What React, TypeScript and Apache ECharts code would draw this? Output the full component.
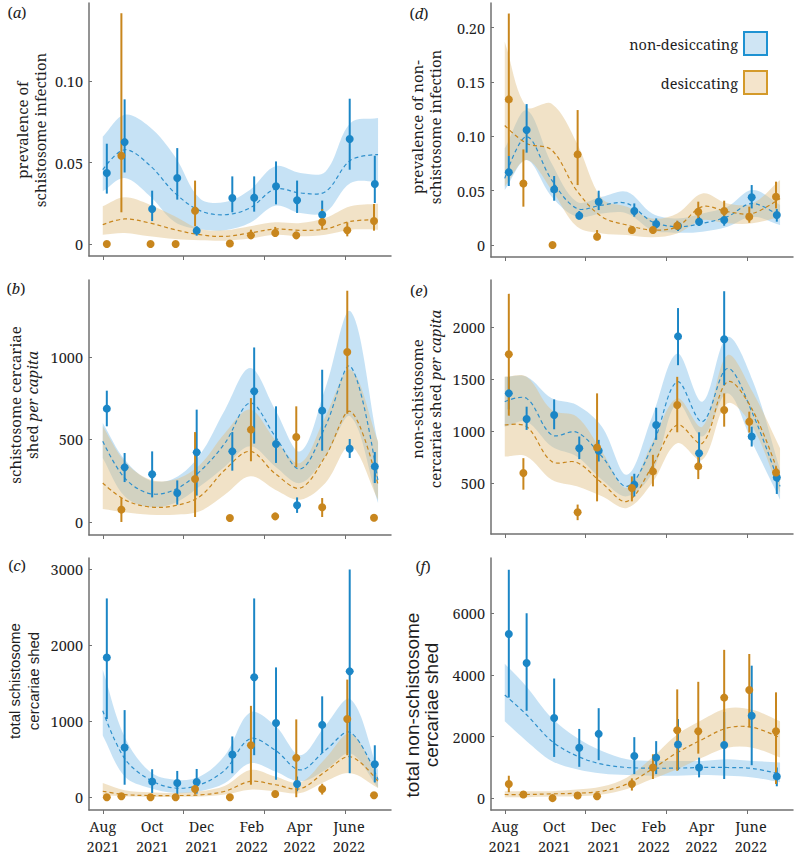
import { useEffect, useRef } from 'react';
import * as echarts from 'echarts';

// ---- sampling dates (days since 1 Aug 2021) ----
const blueDays = [5, 27, 61, 92, 116, 160, 187, 214, 240, 271, 305, 336];
const orangeDays = [5, 23, 59, 90, 114, 157, 183, 213, 239, 271, 302, 335];
const curveDays = [0, 27, 58, 89, 120, 151, 182, 213, 244, 275, 306, 340];
const xTickDays = [0, 100, 200, 300];
const xLabelDays = [0, 61, 122, 184, 243, 304];
const xLabels = ['Aug\n2021', 'Oct\n2021', 'Dec\n2021', 'Feb\n2022', 'Apr\n2022', 'June\n2022'];

// ---- y tick labels ----
const aTicks = [0, 0.05, 0.1];
const bTicks = [0, 500, 1000];
const cTicks = [0, 1000, 2000, 3000];
const dTicks = [0, 0.05, 0.1, 0.15, 0.2];
const eTicks = [500, 1000, 1500, 2000];
const fTicks = [0, 2000, 4000, 6000];

// ---- observations: [value, lower, upper] ----
const aBlue = [[0.0437, 0.031, 0.0617], [0.0627, 0.044, 0.089], [0.0215, 0.0141, 0.0328], [0.0406, 0.0273, 0.059], [0.0082, 0.0051, 0.0109], [0.0283, 0.0195, 0.0416], [0.0285, 0.0199, 0.0416], [0.0355, 0.0244, 0.0508], [0.0269, 0.0191, 0.039], [0.018, 0.0126, 0.0267], [0.0646, 0.0457, 0.0894], [0.0369, 0.0252, 0.0543]];
const aOrange = [[0, 0, 0], [0.0543, 0.0195, 0.142], [0, 0, 0], [0, 0, 0], [0.0205, 0.0109, 0.039], [0.0003, 0.0003, 0.0003], [0.0053, 0.0037, 0.0088], [0.0068, 0.0043, 0.0105], [0.0053, 0.004, 0.007], [0.0135, 0.0088, 0.0215], [0.0084, 0.0047, 0.0133], [0.0141, 0.0082, 0.0246]];
const bBlue = [[687, 580, 796], [331, 242, 418], [289, 149, 428], [176, 105, 252], [422, 160, 681], [428, 311, 545], [792, 475, 1058], [473, 358, 701], [101, 55, 149], [675, 432, 923], [444, 388, 503], [337, 236, 424]];
const bOrange = [null, [75, 0, 145], null, null, [261, 30, 545], [24, 24, 24], [560, 368, 751], [34, 34, 34], [515, 333, 701], [89, 30, 145], [1030, 656, 1402], [26, 26, 26]];
const cBlue = [[1834, 1027, 2611], [652, 164, 1144], [207, 56, 367], [186, 35, 345], [199, 47, 371], [561, 315, 798], [1575, 552, 2611], [975, 229, 1705], [173, 78, 272], [950, 583, 1325], [1653, 315, 2991], [432, 194, 682]];
const cOrange = [[0, 0, 0], [13, 13, 13], [0, 0, 0], [0, 0, 0], [108, 35, 164], [0, 0, 0], [682, 164, 1200], [43, 43, 43], [517, 0, 1022], [108, 35, 177], [1027, 552, 1545], [26, 26, 26]];
const dBlue = [[0.0669, 0.0543, 0.0819], [0.1058, 0.085, 0.1297], [0.0512, 0.0408, 0.0635], [0.027, 0.0236, 0.0313], [0.0399, 0.0322, 0.05], [0.0313, 0.0261, 0.0383], [0.0193, 0.0153, 0.0245], [0.0175, 0.0129, 0.0215], [0.0215, 0.0175, 0.0261], [0.023, 0.0178, 0.0282], [0.0439, 0.0337, 0.0552], [0.0276, 0.0215, 0.0331]];
const dOrange = [[0.134, 0.0819, 0.213], [0.0567, 0.0353, 0.088], [0, 0, 0], [0.0834, 0.0552, 0.1242], [0.0077, 0.0046, 0.0138], [0.0138, 0.0113, 0.0169], [0.0138, 0.0113, 0.016], [0.0178, 0.0138, 0.0224], [0.0307, 0.023, 0.0399], [0.0313, 0.023, 0.0408], [0.0261, 0.0205, 0.0353], [0.0445, 0.0337, 0.0583]];
const eBlue = [[1362, 1208, 1521], [1116, 1011, 1234], [1154, 1017, 1304], [835, 730, 947], [810, 707, 915], [484, 372, 589], [1058, 915, 1224], [1910, 1633, 2182], [787, 628, 988], [1882, 1441, 2344], [947, 851, 1042], [554, 395, 612]];
const eOrange = [[1738, 1148, 2319], [596, 436, 739], null, [219, 143, 293], [841, 324, 1362], [452, 324, 564], [612, 468, 771], [1250, 988, 1521], [660, 538, 781], [1202, 1042, 1362], [1090, 985, 1186], [602, 548, 660]];
const fBlue = [[5329, 3264, 7415], [4387, 2836, 6003], [2600, 1338, 3884], [1637, 1017, 2247], [2087, 1231, 2921], [1370, 781, 1980], [1316, 781, 1851], [1744, 910, 2568], [995, 674, 1316], [1723, 621, 2800], [2675, 1070, 4301], [706, 385, 995]];
const fOrange = [[460, 193, 728], [118, 118, 118], [0, 0, 0], [86, 86, 86], [64, 64, 64], [460, 246, 642], [995, 621, 1423], [2204, 888, 3531], [2172, 1445, 3777], [3264, 1637, 4815], [3510, 2300, 4680], [2172, 460, 3435]];

// ---- fitted curves at curveDays: [mean, lower, upper] ----
const aBlueFit = [[0.0457, 0.0324, 0.066], [0.058, 0.0406, 0.0795], [0.0484, 0.0295, 0.072], [0.0314, 0.0135, 0.054], [0.0205, 0.009, 0.028], [0.018, 0.0085, 0.0258], [0.0222, 0.013, 0.0334], [0.0338, 0.0235, 0.0478], [0.0314, 0.019, 0.0437], [0.0322, 0.0195, 0.0445], [0.0515, 0.0375, 0.0744], [0.055, 0.0385, 0.0775]];
const aOrangeFit = [[0.0119, 0.0057, 0.0232], [0.0154, 0.0068, 0.0287], [0.0129, 0.0047, 0.0242], [0.0088, 0.003, 0.017], [0.0057, 0.0023, 0.0092], [0.0047, 0.002, 0.0084], [0.0068, 0.0033, 0.0109], [0.0092, 0.0057, 0.0133], [0.0084, 0.0047, 0.0129], [0.0092, 0.0057, 0.016], [0.0139, 0.0088, 0.0232], [0.015, 0.0088, 0.0248]];
const bBlueFit = [[489, 388, 600], [267, 156, 378], [172, 91, 252], [196, 115, 267], [307, 216, 408], [479, 337, 681], [721, 459, 933], [519, 337, 681], [321, 236, 428], [580, 398, 812], [943, 640, 1277], [246, 115, 479]];
const bOrangeFit = [[236, 79, 580], [135, 59, 368], [91, 44, 257], [99, 44, 257], [155, 65, 347], [317, 166, 539], [428, 277, 681], [293, 196, 499], [206, 135, 358], [398, 236, 640], [670, 459, 923], [226, 135, 489]];
const cBlueFit = [[1135, 811, 1675], [509, 272, 790], [229, 121, 337], [121, 56, 229], [164, 78, 272], [358, 186, 552], [768, 445, 1114], [617, 337, 941], [358, 207, 552], [617, 358, 941], [850, 574, 1286], [229, 121, 358]];
const cOrangeFit = [[78, 22, 186], [35, 13, 91], [22, 4, 65], [22, 4, 56], [30, 9, 78], [78, 35, 151], [207, 99, 358], [164, 78, 272], [112, 56, 194], [337, 207, 509], [531, 315, 833], [207, 121, 272]];
const dBlueFit = [[0.0613, 0.0506, 0.089], [0.0997, 0.0782, 0.124], [0.0598, 0.0445, 0.075], [0.0337, 0.0261, 0.0399], [0.0368, 0.0291, 0.0445], [0.0383, 0.0291, 0.049], [0.0215, 0.0138, 0.0291], [0.0169, 0.0113, 0.0245], [0.02, 0.0123, 0.0291], [0.0261, 0.0169, 0.0353], [0.0383, 0.0261, 0.0506], [0.0261, 0.0184, 0.0368]];
const dOrangeFit = [[0.11, 0.0537, 0.187], [0.0935, 0.0782, 0.127], [0.0874, 0.0506, 0.13], [0.05, 0.017, 0.094], [0.026, 0.0107, 0.0429], [0.0184, 0.0092, 0.0353], [0.0138, 0.0071, 0.0245], [0.0169, 0.0107, 0.0291], [0.0353, 0.023, 0.0475], [0.0307, 0.02, 0.0383], [0.0291, 0.02, 0.0383], [0.0429, 0.0261, 0.0598]];
const eBlueFit = [[1282, 1042, 1521], [1314, 1090, 1521], [963, 851, 1314], [988, 755, 1250], [755, 532, 1042], [468, 372, 580], [851, 596, 1138], [1473, 1266, 1745], [1090, 947, 1282], [1601, 1362, 1904], [1170, 883, 1489], [468, 340, 628]];
const eOrangeFit = [[1058, 755, 1521], [1042, 755, 1521], [707, 532, 1202], [698, 468, 1138], [500, 372, 803], [324, 261, 452], [660, 500, 883], [1058, 883, 1314], [883, 723, 1042], [1473, 1266, 1729], [1202, 1042, 1378], [548, 404, 835]];
const fBlueFit = [[3349, 2493, 4366], [2707, 1851, 3617], [1851, 1209, 2600], [1370, 942, 1958], [1102, 802, 1530], [995, 749, 1263], [974, 728, 1209], [974, 728, 1209], [995, 749, 1209], [995, 728, 1263], [963, 674, 1209], [781, 514, 1156]];
const fOrangeFit = [[118, 32, 225], [118, 32, 225], [139, 54, 225], [160, 64, 278], [225, 118, 374], [460, 300, 674], [942, 621, 1316], [1477, 942, 2065], [1905, 1316, 2547], [2279, 1637, 2921], [2300, 1637, 2868], [1958, 1316, 2493]];

const BLUE = '#1b86c6';
const ORANGE = '#c8861d';
const BLUE_BAND = 'rgba(120,185,230,0.42)';
const ORANGE_BAND = 'rgba(225,190,130,0.45)';
const SERIF = "'Noto Serif', 'DejaVu Serif', serif";
const SANS = "'Liberation Sans', Arial, sans-serif";
const AXIS_COLOR = '#707070';
const TEXT = '#1e1e1e';
const SMOOTH = 0.35;
const TITLE_SIZE = 15;

type Pt = number[] | null;

const panels = [
  { left: 89, top: 3, height: 253, min: -0.0074, max: 0.1483, ticks: aTicks, dec: true, bottom: false, blue: aBlue, orange: aOrange as Pt[], blueFit: aBlueFit, orangeFit: aOrangeFit },
  { left: 89, top: 280, height: 255, min: -79, max: 1467, ticks: bTicks, dec: false, bottom: false, blue: bBlue, orange: bOrange as Pt[], blueFit: bBlueFit, orangeFit: bOrangeFit },
  { left: 89, top: 558, height: 256, min: -168, max: 3142, ticks: cTicks, dec: false, bottom: true, blue: cBlue, orange: cOrange as Pt[], blueFit: cBlueFit, orangeFit: cOrangeFit },
  { left: 491, top: 3, height: 254, min: -0.011, max: 0.2227, ticks: dTicks, dec: true, bottom: false, blue: dBlue, orange: dOrange as Pt[], blueFit: dBlueFit, orangeFit: dOrangeFit },
  { left: 491, top: 280, height: 254, min: 10, max: 2452, ticks: eTicks, dec: false, bottom: false, blue: eBlue, orange: eOrange as Pt[], blueFit: eBlueFit, orangeFit: eOrangeFit },
  { left: 491, top: 558, height: 255, min: -385, max: 7797, ticks: fTicks, dec: false, bottom: true, blue: fBlue, orange: fOrange as Pt[], blueFit: fBlueFit, orangeFit: fOrangeFit },
];

function bandSeries(idx: number, fit: number[][], color: string) {
  return {
    type: 'custom', xAxisIndex: idx, yAxisIndex: idx, silent: true, z: 1,
    data: [[curveDays[0], fit[0][0]]],
    encode: { x: 0, y: 1 },
    renderItem: (_params: any, api: any) => {
      const up = fit.map((f, i) => api.coord([curveDays[i], f[2]]));
      const lo = fit.map((f, i) => api.coord([curveDays[i], f[1]])).reverse();
      // repeat the end points so the band keeps straight, square ends
      const pts = [up[0], ...up, up[up.length - 1], lo[0], ...lo, lo[lo.length - 1]];
      return { type: 'polygon', shape: { points: pts, smooth: SMOOTH }, style: { fill: color } };
    },
  };
}

function fitLine(idx: number, fit: number[][], color: string) {
  return {
    type: 'custom', xAxisIndex: idx, yAxisIndex: idx, silent: true, z: 3,
    data: [[curveDays[0], fit[0][0]]],
    encode: { x: 0, y: 1 },
    renderItem: (_params: any, api: any) => {
      const pts = fit.map((f, i) => api.coord([curveDays[i], f[0]]));
      return { type: 'polyline', shape: { points: pts, smooth: SMOOTH }, style: { fill: 'none', stroke: color, lineWidth: 1.2, lineDash: [4, 3] } };
    },
  };
}

function errorBars(idx: number, pts: Pt[], days: number[], color: string) {
  const data: number[][] = [];
  pts.forEach((p, k) => { if (p) data.push([days[k], p[0], p[1], p[2]]); });
  return {
    type: 'custom', xAxisIndex: idx, yAxisIndex: idx, data, z: 4, silent: true,
    encode: { x: 0, y: 1 },
    renderItem: (_params: any, api: any) => {
      const x = api.value(0);
      const p1 = api.coord([x, api.value(2)]);
      const p2 = api.coord([x, api.value(3)]);
      return { type: 'line', shape: { x1: p1[0], y1: p1[1], x2: p2[0], y2: p2[1] }, style: { stroke: color, lineWidth: 2 } };
    },
  };
}

function points(idx: number, pts: Pt[], days: number[], color: string) {
  const data: number[][] = [];
  pts.forEach((p, k) => { if (p) data.push([days[k], p[0]]); });
  return {
    type: 'scatter', xAxisIndex: idx, yAxisIndex: idx, data, symbolSize: 8, z: 5, silent: true,
    itemStyle: { color, opacity: 1 },
  };
}

function vText(x: number, y: number, text: string, font: string, size: number) {
  return {
    type: 'text', x, y, rotation: Math.PI / 2, z: 10,
    style: {
      text, fontFamily: font, fontSize: size, fill: TEXT, align: 'center', verticalAlign: 'middle',
      rich: { i: { fontStyle: 'italic', fontFamily: font, fontSize: size, fill: TEXT } },
    },
  };
}

function panelLabel(x: number, y: number, letter: string) {
  return {
    type: 'text', x, y, z: 10,
    style: {
      text: '({i|' + letter + '})', fontFamily: SERIF, fontSize: 15, fill: TEXT, align: 'center', verticalAlign: 'middle',
      rich: { i: { fontStyle: 'italic', fontFamily: SERIF, fontSize: 15, fill: TEXT } },
    },
  };
}

export default function App() {
  const ref = useRef<HTMLDivElement>(null);
  useEffect(() => {
    if (!ref.current) return;
    const chart = echarts.init(ref.current, undefined, { renderer: 'svg' });
    const grid: any[] = [];
    const xAxis: any[] = [];
    const yAxis: any[] = [];
    const series: any[] = [];
    panels.forEach((p, i) => {
      grid.push({ left: p.left, top: p.top, width: 302, height: p.height });
      xAxis.push({
        type: 'value', gridIndex: i, min: -17, max: 356,
        axisLine: { show: true, onZero: false, lineStyle: { color: AXIS_COLOR, width: 1.5 } },
        axisTick: { show: true, customValues: xTickDays, length: 4, lineStyle: { color: AXIS_COLOR, width: 1 } },
        axisLabel: {
          show: p.bottom, customValues: xLabelDays, margin: 6, fontFamily: SERIF, fontSize: 14.5, lineHeight: 20, color: TEXT,
          formatter: (v: number) => xLabels[xLabelDays.indexOf(Math.round(v))] ?? '',
        },
        splitLine: { show: false },
      });
      yAxis.push({
        type: 'value', gridIndex: i, min: p.min, max: p.max,
        axisLine: { show: true, onZero: false, lineStyle: { color: AXIS_COLOR, width: 1.5 } },
        axisTick: { show: true, inside: true, length: 3, customValues: p.ticks, lineStyle: { color: AXIS_COLOR, width: 1 } },
        axisLabel: {
          customValues: p.ticks, margin: 6, fontFamily: SERIF, fontSize: 14.5, color: TEXT,
          formatter: (v: number) => (v === 0 ? '0' : p.dec ? v.toFixed(2) : String(Math.round(v))),
        },
        splitLine: { show: false },
      });
      series.push(bandSeries(i, p.blueFit, BLUE_BAND));
      series.push(bandSeries(i, p.orangeFit, ORANGE_BAND));
      series.push(fitLine(i, p.blueFit, '#2f90cc'));
      series.push(fitLine(i, p.orangeFit, ORANGE));
      series.push(errorBars(i, p.blue, blueDays, BLUE));
      series.push(errorBars(i, p.orange, orangeDays, ORANGE));
      series.push(points(i, p.blue, blueDays, BLUE));
      series.push(points(i, p.orange, orangeDays, ORANGE));
    });

    const graphic: any[] = [
      panelLabel(17, 12, 'a'), panelLabel(16, 288, 'b'), panelLabel(17, 565, 'c'),
      panelLabel(419, 13, 'd'), panelLabel(419, 290, 'e'), panelLabel(423, 566, 'f'),
      vText(22, 130, 'prevalence of', SERIF, TITLE_SIZE),
      vText(40, 130, 'schistosome infection', SERIF, TITLE_SIZE),
      vText(15, 405, 'schistosome cercariae', SERIF, TITLE_SIZE),
      vText(32, 405, 'shed {i|per capita}', SERIF, TITLE_SIZE),
      vText(14, 681, 'total schistosome', SANS, 15),
      vText(33, 681, 'cercariae shed', SANS, 15),
      vText(417, 127, 'prevalence of non-', SERIF, TITLE_SIZE),
      vText(435, 127, 'schistosome infection', SERIF, TITLE_SIZE),
      vText(417, 399, 'non-schistosome', SERIF, TITLE_SIZE),
      vText(435, 399, 'cercariae shed {i|per capita}', SERIF, TITLE_SIZE),
      vText(412, 705, 'total non-schistosome', SANS, 19),
      vText(431, 705, 'cercariae shed', SANS, 19),
      { type: 'rect', z: 10, shape: { x: 744, y: 32, width: 23, height: 23 }, style: { fill: '#cfe5f4', stroke: '#1e92d2', lineWidth: 2 } },
      { type: 'rect', z: 10, shape: { x: 744, y: 71, width: 23, height: 23 }, style: { fill: '#f4e4cb', stroke: '#d49a2a', lineWidth: 2 } },
      { type: 'text', z: 10, x: 738, y: 44, style: { text: 'non-desiccating', fontFamily: SERIF, fontSize: 14.5, fill: TEXT, align: 'right', verticalAlign: 'middle' } },
      { type: 'text', z: 10, x: 738, y: 83, style: { text: 'desiccating', fontFamily: SERIF, fontSize: 14.5, fill: TEXT, align: 'right', verticalAlign: 'middle' } },
    ];

    chart.setOption({
      animation: false,
      backgroundColor: '#ffffff',
      grid, xAxis, yAxis, series, graphic,
    });
    return () => chart.dispose();
  }, []);
  return <div ref={ref} style={{ position: 'fixed', left: 0, top: 0, width: 795, height: 856 }} />;
}
